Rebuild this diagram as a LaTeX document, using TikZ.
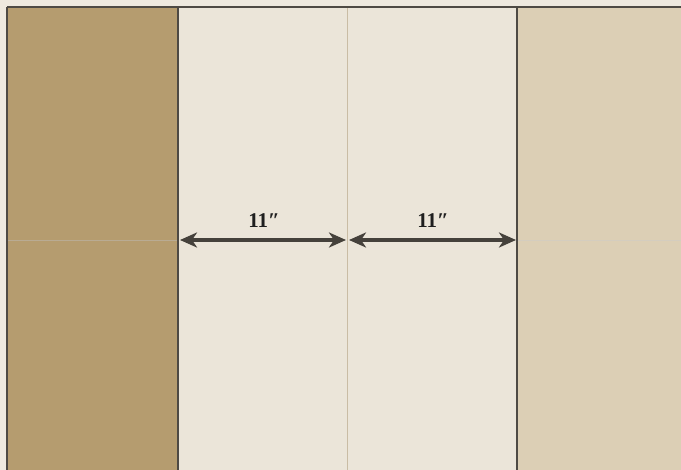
\documentclass[tikz,border=0pt]{standalone}
\usepackage{fontspec}
\newfontfamily\labelfont{Liberation Serif}
\usetikzlibrary{arrows.meta}
\definecolor{margincol}{HTML}{EEE9DF}
\definecolor{tancol}{HTML}{B59C6F}
\definecolor{lightcol}{HTML}{EBE5D9}
\definecolor{beigecol}{HTML}{DCCFB5}
\definecolor{edgecol}{HTML}{4E4A44}
\definecolor{seamcol}{HTML}{C9BCA4}
\definecolor{arrowcol}{HTML}{45413B}
\tikzset{
  strip/.style={draw=none, inner sep=0pt, anchor=north west, minimum height=463pt},
  seam/.style={draw=seamcol, line width=0.8pt},
  edge/.style={draw=edgecol, line width=1.6pt},
  dimarrow/.style={draw=arrowcol, line width=3.4pt, {Stealth[length=17pt,width=15pt,inset=5pt]}-{Stealth[length=17pt,width=15pt,inset=5pt]}, shorten <=2pt, shorten >=1pt},
  dimlabel/.style={font=\labelfont\fontsize{21}{23}\selectfont\bfseries, text=black!88, inner sep=0pt}
}
\begin{document}
\begin{tikzpicture}[x=1pt,y=-1pt]
\useasboundingbox (0,0) rectangle (681,470);
\fill[margincol] (0,0) rectangle (681,470);
\node[strip, fill=tancol, minimum width=171pt] (s1) at (7,7) {};
\node[strip, fill=lightcol, minimum width=169pt] (s2) at (178,7) {};
\node[strip, fill=lightcol, minimum width=170pt] (s3) at (347,7) {};
\node[strip, fill=beigecol, minimum width=164pt] (s4) at (517,7) {};
% horizontal seams
\coordinate (h1a) at (7,240);
\coordinate (h1b) at (178,240);
\coordinate (h4a) at (517,240);
\coordinate (h4b) at (681,240);
\draw[seam, draw=black!25, opacity=0.45] (h1a) -- (h1b);
\draw[seam, draw=black!20, opacity=0.45] (h4a) -- (h4b);
% vertical seam between light strips
\draw[seam] (s3.north west) -- (s3.south west);
% dark edges
\draw[edge] (s1.north west) -- (s4.north east);
\draw[edge] (s1.north west) -- (s1.south west);
\draw[edge] (s2.north west) -- (s2.south west);
\draw[edge] (s4.north west) -- (s4.south west);
% dimension arrows
\coordinate (a1) at (178,240);
\coordinate (a2) at (347,240);
\coordinate (a3) at (517,240);
\draw[dimarrow] (a1) -- (a2);
\draw[dimarrow] (a2) -- (a3);
\node[dimlabel] (l1) at (264,221) {11″};
\node[dimlabel] (l2) at (433,221) {11″};
\end{tikzpicture}
\end{document}
